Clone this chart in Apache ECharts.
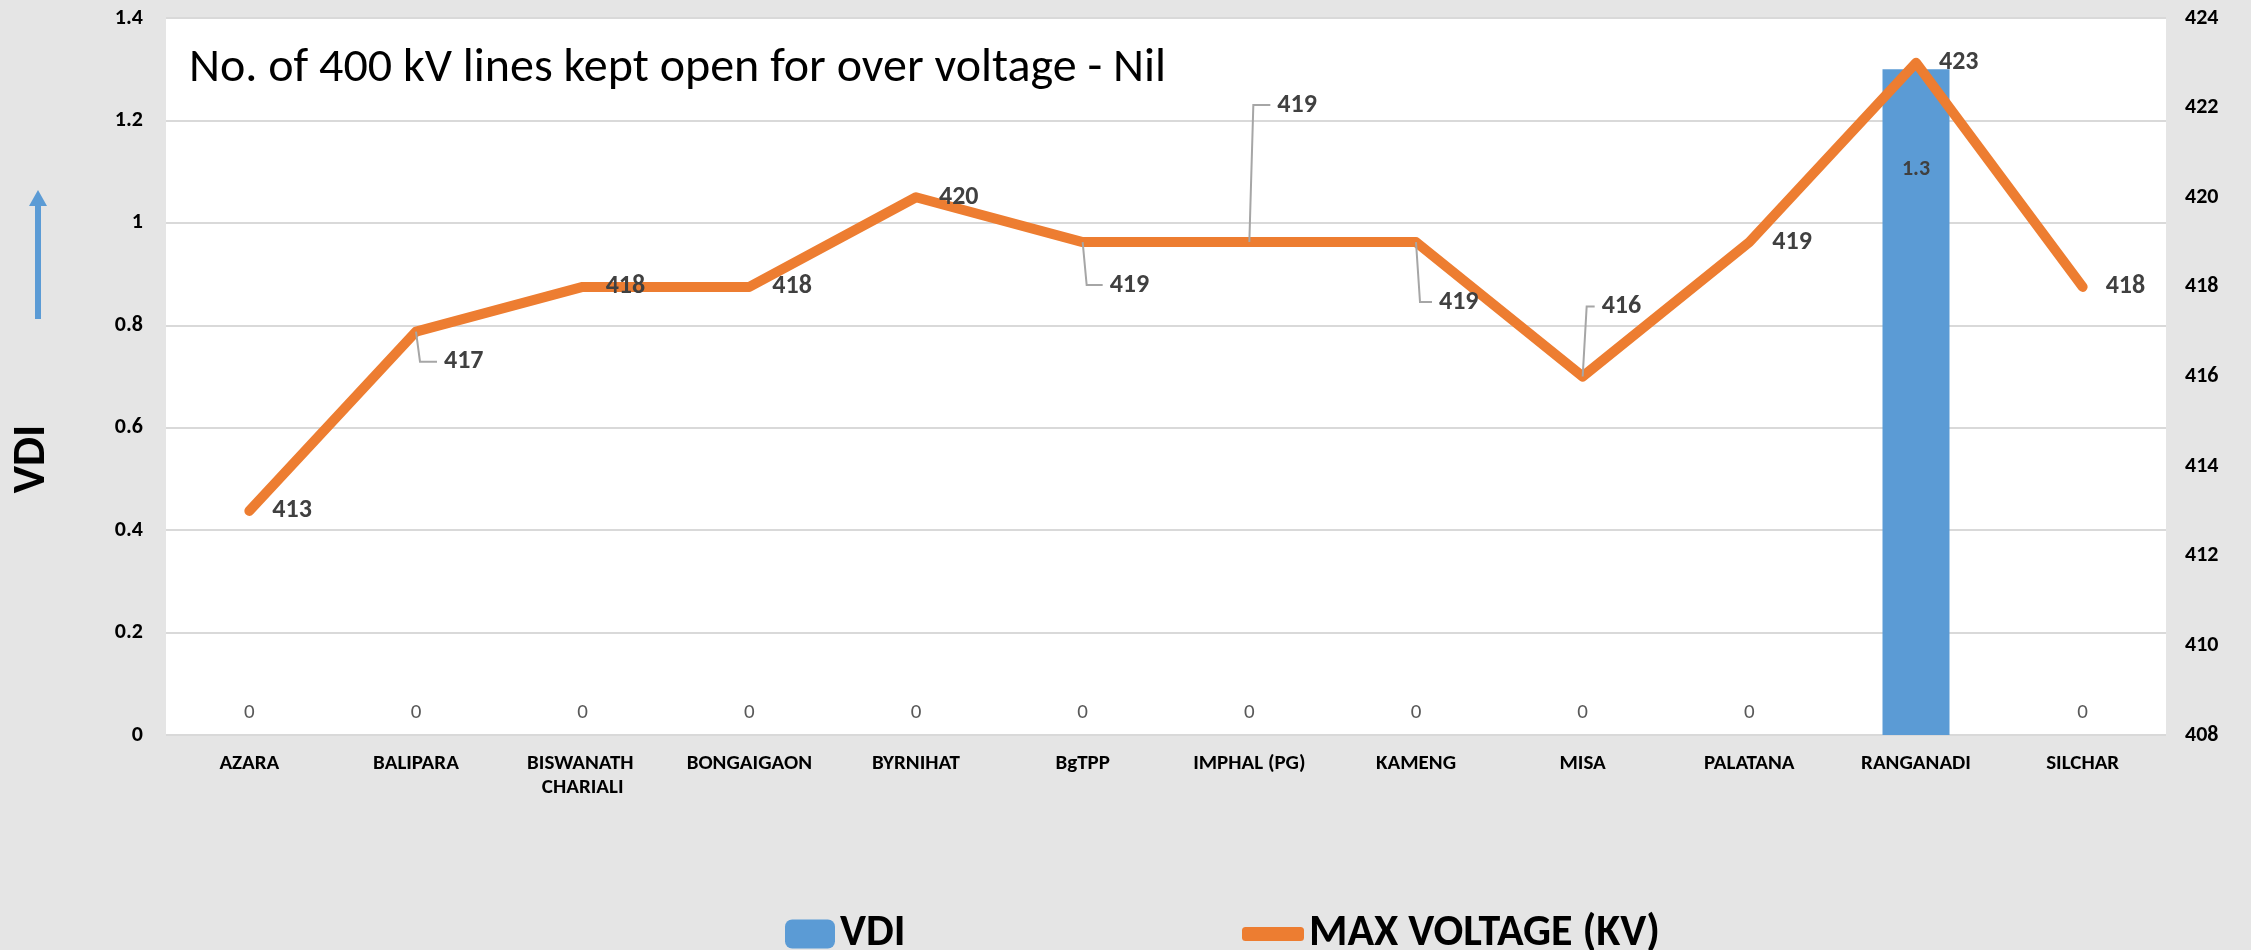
<!DOCTYPE html>
<html style="height: 100%">
<head>
<meta charset="utf-8">
<script src="https://cdn.jsdelivr.net/npm/echarts@6/dist/echarts.min.js"></script>
</head>
<body style="height: 100%; margin: 0; background: #E5E5E5">
	<div id="container" style="width: 2251px; height: 950px"></div>
	<script type="text/javascript">
		// station names on the x axis
		var stations = ['AZARA', 'BALIPARA', 'BISWANATH CHARIALI', 'BONGAIGAON', 'BYRNIHAT', 'BgTPP',
			'IMPHAL (PG)', 'KAMENG', 'MISA', 'PALATANA', 'RANGANADI', 'SILCHAR'];
		// VDI per station (bars)
		var vdi = [0, 0, 0, 0, 0, 0, 0, 0, 0, 0, 1.3, 0];
		// max voltage in kV per station (line)
		var maxVoltage = [413, 417, 418, 418, 420, 419, 419, 419, 416, 419, 423, 418];
		// axis ranges / ticks
		var vdiTicks = [0, 1.4, 0.2];
		var kvTicks = [408, 424, 2];

		// labels moved off the line (with leader lines), index -> shift
		var labelShift = {
			1: [5, 30],
			5: [4, 43],
			6: [5, -137],
			7: [0, 60],
			8: [-4, -70]
		};
		var labelDist = 22;

		var blue = '#5B9BD5';
		var orange = '#ED7D31';
		var fontFam = 'Carlito, Lato, sans-serif';

		var barData = vdi.map(function (v) {
			if (v > 0) {
				return {
					value: v,
					label: { position: 'insideTop', distance: 89, fontWeight: 'bold', fontSize: 22, color: '#404040' }
				};
			}
			return v;
		});

		var dom = document.getElementById('container');
		var myChart = echarts.init(dom);
		var option = {
			backgroundColor: '#E5E5E5',
			animation: false,
			textStyle: { fontFamily: fontFam },
			grid: {
				left: 166, right: 85, top: 18, bottom: 215,
				show: true, backgroundColor: '#fff', borderWidth: 0
			},
			graphic: [
				{
					type: 'text', left: 189, top: 45,
					style: { text: 'No. of 400 kV lines kept open for over voltage - Nil', font: '48px ' + fontFam, fill: '#000' }
				},
				{
					type: 'text', x: 32, y: 459, rotation: Math.PI / 2,
					style: { text: 'VDI', font: 'bold 46px ' + fontFam, fill: '#000', align: 'center', verticalAlign: 'middle' }
				},
				{ type: 'rect', shape: { x: 35, y: 204, width: 6, height: 115 }, style: { fill: blue } },
				{ type: 'polygon', shape: { points: [[29, 206], [47, 206], [38, 190]] }, style: { fill: blue } }
			],
			legend: [
				{
					data: ['VDI'], left: 780, top: 907, itemWidth: 50, itemHeight: 29,
					textStyle: { fontSize: 44, lineHeight: 44, fontWeight: 'bold', color: '#000', fontFamily: fontFam }
				},
				{
					data: [{ name: 'MAX VOLTAGE (KV)', icon: 'roundRect' }], left: 1237, top: 907, itemWidth: 62, itemHeight: 14,
					textStyle: { fontSize: 44, lineHeight: 44, fontWeight: 'bold', color: '#000', fontFamily: fontFam }
				}
			],
			xAxis: {
				type: 'category',
				data: stations,
				axisLine: { show: false },
				axisTick: { show: false },
				axisLabel: {
					interval: 0, margin: 17, fontSize: 21, fontWeight: 'bold', color: '#000',
					width: 160, overflow: 'break', lineHeight: 24
				}
			},
			yAxis: [
				{
					type: 'value', min: vdiTicks[0], max: vdiTicks[1], interval: vdiTicks[2],
					axisLine: { show: false }, axisTick: { show: false },
					axisLabel: { margin: 23, fontSize: 22, fontWeight: 'bold', color: '#000' },
					splitLine: { lineStyle: { color: '#D9D9D9', width: 2 } }
				},
				{
					type: 'value', min: kvTicks[0], max: kvTicks[1], interval: kvTicks[2],
					axisLine: { show: false }, axisTick: { show: false },
					axisLabel: { margin: 19, fontSize: 22, fontWeight: 'bold', color: '#000' },
					splitLine: { show: false }
				}
			],
			series: [
				{
					name: 'VDI',
					type: 'bar',
					data: barData,
					barWidth: 67,
					itemStyle: { color: blue },
					label: { show: true, position: 'top', distance: 12, fontSize: 21, color: '#595959' }
				},
				{
					name: 'MAX VOLTAGE (KV)',
					type: 'line',
					yAxisIndex: 1,
					data: maxVoltage,
					symbol: 'circle',
					symbolSize: 2,
					z: 3,
					itemStyle: { color: orange },
					lineStyle: { color: orange, width: 10, cap: 'round', join: 'round' },
					label: { show: true, position: 'right', distance: labelDist, fontSize: 26, fontWeight: 'bold', color: '#404040' },
					labelLayout: function (params) {
						var s = labelShift[params.dataIndex];
						if (s) {
							return { dx: s[0], dy: s[1] };
						}
					}
				}
			]
		};
		myChart.setOption(option, true);

		// leader lines for the moved labels, placed from the axis scales
		Object.keys(labelShift).forEach(function (k) {
			var i = +k;
			var s = labelShift[i];
			var p = myChart.convertToPixel({ seriesIndex: 1 }, [i, maxVoltage[i]]);
			var ly = p[1] + s[1];
			var lx = p[0] + 1 + labelDist + s[0];
			option.graphic.push({
				type: 'polyline',
				z: 10,
				shape: { points: [[p[0], p[1]], [p[0] + 4, ly], [lx - 7, ly]] },
				style: { stroke: '#A6A6A6', lineWidth: 2, fill: null }
			});
		});
		myChart.setOption(option, true);
	</script>
</body>
</html>
